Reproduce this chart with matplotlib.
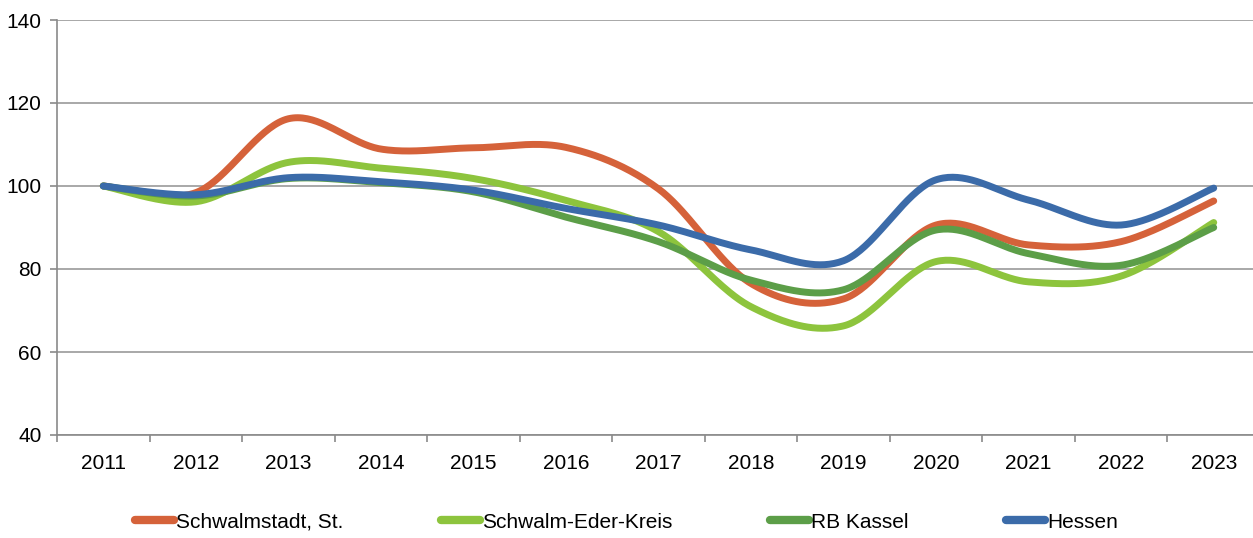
import matplotlib.pyplot as plt
import numpy as np

plt.rcParams['font.family'] = ['Liberation Sans', 'DejaVu Sans']

years = ['2011', '2012', '2013', '2014', '2015', '2016', '2017',
         '2018', '2019', '2020', '2021', '2022', '2023']
schwalmstadt = [100, 98.4, 116.2, 108.9, 109.2, 109.3, 99.3, 76.5, 72.8, 90.6, 85.8, 86.6, 96.4]
schwalm_eder = [100, 96.2, 105.7, 104.3, 101.8, 96.5, 89.0, 70.9, 66.3, 81.8, 76.9, 78.3, 91.2]
rb_kassel = [100, 97.6, 101.8, 100.8, 98.6, 92.5, 86.6, 77.3, 75.0, 89.4, 83.7, 80.9, 90.0]
hessen = [100, 97.9, 102.0, 101.0, 99.0, 94.6, 90.6, 84.6, 82.0, 101.5, 96.6, 90.6, 99.5]

series = [
    ('Schwalmstadt, St.', schwalmstadt, '#d5623a'),
    ('Schwalm-Eder-Kreis', schwalm_eder, '#8dc43d'),
    ('RB Kassel', rb_kassel, '#5c9e48'),
    ('Hessen', hessen, '#3b6ba9'),
]


def smooth(x, y, n=40):
    # Bezier smoothing like spreadsheet "smoothed line" charts
    x = np.asarray(x, float)
    y = np.asarray(y, float)
    px = np.concatenate([[x[0]], x, [x[-1]]])
    py = np.concatenate([[y[0]], y, [y[-1]]])
    t = np.linspace(0, 1, n)[:, None]
    xs, ys = [], []
    for i in range(1, len(px) - 2):
        p0 = np.array([px[i], py[i]])
        p3 = np.array([px[i + 1], py[i + 1]])
        c1 = p0 + (np.array([px[i + 1], py[i + 1]]) - np.array([px[i - 1], py[i - 1]])) / 6
        c2 = p3 - (np.array([px[i + 2], py[i + 2]]) - np.array([px[i], py[i]])) / 6
        b = ((1 - t) ** 3) * p0 + 3 * ((1 - t) ** 2) * t * c1 + 3 * (1 - t) * t ** 2 * c2 + t ** 3 * p3
        xs.append(b[:, 0])
        ys.append(b[:, 1])
    return np.concatenate(xs), np.concatenate(ys)


fig = plt.figure(figsize=(12.53, 5.38), dpi=100)
ax = fig.add_axes([57 / 1253, 1 - 435 / 538, (1260 - 57) / 1253, 415 / 538])

x = np.arange(len(years))
for name, vals, color in series:
    sx, sy = smooth(x, vals)
    ax.plot(sx, sy, color=color, lw=5, solid_capstyle='round', label=name)

ax.set_xlim(-0.5, len(years) - 0.5)
ax.set_ylim(40, 140)
ax.set_yticks(np.arange(40, 141, 20))
ax.yaxis.grid(True, color='#9a9a9a', lw=1.2)
ax.set_axisbelow(True)

ax.set_xticks(x)
ax.set_xticklabels(years)
ax.set_xticks(np.arange(-0.5, len(years), 1), minor=True)
ax.tick_params(axis='x', which='major', length=0, pad=14, labelsize=15)
ax.tick_params(axis='x', which='minor', length=5, width=1.2, color='#8a8a8a', direction='out')
ax.tick_params(axis='y', length=5, width=1.2, color='#8a8a8a', labelsize=15, pad=6)

for side in ['top', 'right']:
    ax.spines[side].set_visible(False)
for side in ['left', 'bottom']:
    ax.spines[side].set_color('#8a8a8a')
    ax.spines[side].set_linewidth(1.2)

leg = fig.legend(loc='center', bbox_to_anchor=(0.5, 1 - 522 / 538), ncol=4,
                 frameon=False, fontsize=15, handlelength=1.85, handletextpad=0.1,
                 columnspacing=4.7)
for line in leg.get_lines():
    line.set_linewidth(6)

fig.savefig('out.png', dpi=100)
plt.close()
